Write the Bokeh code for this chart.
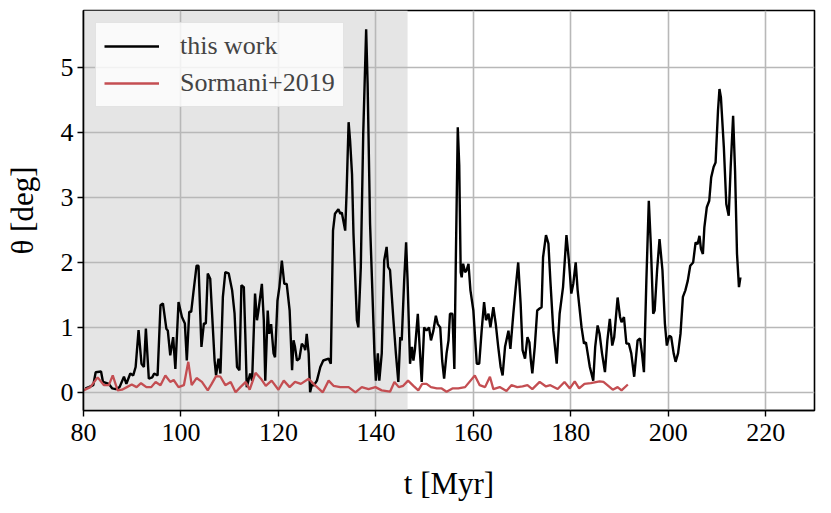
from bokeh.plotting import figure
from bokeh.models import Range1d, FixedTicker, BoxAnnotation
from bokeh.embed import file_html
from bokeh.resources import INLINE

# ---- data ----
t_work = [80.4, 81.1, 82.0, 82.5, 83.6, 84.0, 85.2, 85.9, 86.6, 87.4, 88.3, 88.8, 89.6, 90.2, 90.7,
          91.3, 91.9, 92.4, 92.8, 93.4, 94.1, 94.5, 95.2, 95.8, 96.3, 97.0, 97.3, 97.8, 98.4, 98.85,
          99.5, 100.2, 100.8, 101.2, 101.7, 102.1, 102.6, 103.2, 103.6, 104.2, 104.7, 105.1, 105.5,
          106.0, 106.9, 107.2, 107.7, 108.1, 108.6, 109.1, 109.8, 110.5, 111.0, 111.5, 112.0, 112.4,
          112.9, 113.2, 113.5, 114.2, 114.6, 115.2, 115.6, 115.9, 116.6, 117.0, 117.3, 117.8, 118.1,
          118.5, 119.0, 119.3, 119.8, 120.2, 120.7, 121.2, 121.7, 122.3, 122.8, 123.1, 123.4, 123.8,
          124.3, 124.8, 125.3, 125.5, 125.8, 126.2, 126.5, 126.9, 127.2, 127.9, 128.6, 129.2, 130.3,
          130.75, 131.2, 131.6, 132.3, 132.7, 133.0, 133.7, 134.0, 134.4, 134.7, 135.1, 135.4, 136.1,
          136.4, 136.9, 137.4, 138.0, 138.3, 138.8, 139.2, 139.7, 140.0, 140.4, 140.7, 141.2, 141.7,
          142.2, 142.5, 142.9, 143.6, 144.1, 144.6, 145.0, 145.3, 145.8, 146.2, 146.5, 147.0, 147.4,
          147.7, 148.0, 148.6, 148.9, 149.4, 149.9, 150.4, 150.9, 151.3, 151.8, 152.3, 152.7, 153.2,
          153.6, 154.0, 154.5, 154.9, 155.2, 155.7, 156.1, 156.4, 156.8, 157.1, 157.4, 157.6, 157.9,
          158.3, 158.6, 159.0, 159.4, 160.0, 160.7, 161.2, 161.7, 162.2, 162.6, 163.1, 163.5, 164.1,
          164.6, 165.1, 165.6, 166.0, 166.5, 167.2, 167.6, 168.2, 168.7, 169.2, 169.7, 170.1, 170.6,
          171.1, 171.5, 171.8, 172.1, 172.6, 173.1, 173.6, 174.0, 174.3, 174.9, 175.4, 175.8, 176.4,
          177.1, 177.7, 178.4, 179.1, 179.6, 180.1, 180.5, 181.0, 181.4, 182.2, 182.7, 183.1, 183.9,
          184.6, 185.0, 185.5, 185.9, 186.4, 187.0, 187.5, 188.0, 188.5, 188.9, 189.6, 190.1, 190.4,
          190.9, 191.4, 191.9, 192.4, 193.0, 193.7, 194.2, 194.6, 195.0, 195.5, 196.0, 196.4, 196.9,
          197.2, 197.7, 198.2, 198.8, 199.3, 199.7, 200.2, 200.6, 201.1, 201.5, 202.0, 202.5, 203.0,
          203.5, 204.0, 204.5, 205.1, 205.6, 206.0, 206.4, 206.7, 207.1, 207.4, 207.9, 208.4, 208.8,
          209.3, 209.7, 210.2, 210.5, 210.8, 211.4, 211.9, 212.4, 212.8, 213.3, 213.7, 214.1, 214.5,
          214.8]
theta_work = [0.06, 0.08, 0.11, 0.31, 0.32, 0.16, 0.13, 0.06, 0.05, 0.08, 0.24, 0.13, 0.29, 0.26, 0.39,
              0.96, 0.44, 0.39, 0.98, 0.21, 0.23, 0.29, 0.26, 1.34, 1.37, 0.98, 0.95, 0.57, 0.85, 0.36,
              1.39, 1.16, 1.06, 0.49, 1.24, 1.24, 1.57, 1.95, 1.95, 0.70, 1.06, 1.06, 1.83,
              1.75, 0.49, 0.26, 0.52, 0.29, 1.47, 1.85, 1.83, 1.57, 1.21, 0.39, 0.34, 1.65,
              1.62, 0.90, 0.08, 0.29, 0.18, 1.52, 1.11, 1.26, 1.67, 1.11, 0.18, 1.26, 0.90,
              1.05, 0.60, 0.54, 1.41, 1.62, 2.03, 1.67, 1.67, 1.26, 0.34, 0.80, 0.70, 0.49,
              0.52, 0.75, 0.70, 0.65, 0.90, 0.60, 0.00, 0.13, 0.10, 0.18, 0.39, 0.49, 0.52,
              0.44, 2.49, 2.75, 2.82, 2.75, 2.77, 2.49, 3.11, 4.16, 3.88, 3.36, 2.44, 1.11,
              1.00, 1.92, 3.98, 5.59, 4.75, 2.60, 1.72, 0.60, 0.18, 0.60, 0.18, 0.60, 2.03,
              2.24, 1.93, 1.88, 1.11, 0.60, 0.16, 0.85, 0.80, 1.72, 2.31, 1.72, 0.44, 0.70,
              0.49, 0.65, 1.21, 0.80, 0.16, 1.00, 0.95, 1.00, 0.80, 0.95, 1.18, 1.05, 1.00,
              0.49, 0.21, 0.60, 0.80, 1.21, 1.21, 0.36, 2.03, 4.08, 3.50, 1.85, 1.77, 1.98,
              1.85, 1.88, 1.98, 1.57, 1.26, 0.44, 0.44, 0.95, 1.39, 1.11, 1.21, 1.00, 1.31,
              1.05, 0.70, 0.39, 0.26, 0.70, 0.95, 0.67, 1.21, 1.62, 2.00, 1.36, 0.65, 0.52,
              0.85, 0.77, 0.49, 0.29, 0.70, 1.26, 1.29, 1.31, 2.08, 2.42, 2.29, 1.72, 0.95,
              0.44, 1.21, 1.62, 2.42, 2.03, 1.52, 1.67, 2.00, 1.57, 1.00, 0.75, 0.77, 0.39,
              0.18, 0.70, 1.03, 0.90, 0.60, 0.31, 0.80, 1.13, 0.72, 0.85, 1.46, 1.16, 1.08,
              1.16, 0.75, 0.75, 0.60, 0.24, 0.80, 0.83, 0.60, 0.31, 1.72, 2.95, 2.30, 1.21,
              1.26, 1.88, 2.36, 1.88, 1.06, 0.72, 0.87, 0.85, 0.60, 0.47, 0.60, 0.90, 1.47,
              1.57, 1.72, 1.95, 2.00, 2.31, 2.28, 2.41, 2.21, 2.13, 2.54, 2.85, 2.95, 3.31,
              3.47, 3.54, 4.34, 4.67, 4.54, 3.77, 2.90, 2.72, 3.47, 4.26, 3.41, 2.13, 1.62,
              1.77]

t_sormani = [80.0, 81.4, 82.9, 84.2, 85.2, 86.0, 87.0, 87.9, 88.9, 89.9, 90.9, 91.8, 92.9, 93.9,
             94.8, 95.8, 96.8, 97.8, 98.5, 99.5, 100.6, 101.5, 102.2, 103.2, 104.3, 105.5, 106.3,
             107.2, 108.1, 109.1, 110.2, 111.2, 112.2, 113.3, 114.1, 115.3, 116.4, 117.4, 118.6,
             120.0, 121.1, 122.3, 123.4, 124.6, 126.2, 127.2, 129.1, 130.3, 131.3, 132.7, 134.4,
             135.8, 137.1, 138.5, 139.9, 141.2, 142.9, 143.8, 144.7, 145.6, 146.6, 147.7, 148.7,
             149.5, 150.4, 151.3, 152.5, 153.5, 154.5, 155.7, 156.9, 158.3, 160.3, 161.3, 162.4,
             163.4, 164.1, 165.4, 166.8, 167.8, 169.0, 170.1, 171.1, 172.1, 173.6, 174.9, 175.8,
             177.3, 178.7, 179.8, 180.8, 181.7, 182.8, 184.1, 185.9, 186.7, 187.5, 188.6, 189.6,
             190.4, 191.7]
theta_sormani = [0.03, 0.08, 0.23, 0.11, 0.11, 0.26, 0.03, 0.04, 0.08, 0.12, 0.08, 0.14, 0.08, 0.08,
                 0.16, 0.11, 0.26, 0.16, 0.19, 0.08, 0.11, 0.47, 0.11, 0.22, 0.16, 0.03, 0.13,
                 0.25, 0.24, 0.11, 0.16, 0.00, 0.08, 0.16, 0.04, 0.30, 0.21, 0.10, 0.18,
                 0.04, 0.18, 0.08, 0.16, 0.13, 0.21, 0.13, 0.00, 0.18, 0.10, 0.08, 0.08,
                 0.00, 0.08, 0.05, 0.08, 0.03, 0.01, 0.16, 0.08, 0.10, 0.18, 0.10, 0.03,
                 0.13, 0.13, 0.08, 0.06, 0.06, 0.01, 0.06, 0.06, 0.08, 0.26, 0.11, 0.08,
                 0.24, 0.05, 0.08, 0.02, 0.11, 0.08, 0.09, 0.11, 0.05, 0.16, 0.09, 0.11,
                 0.05, 0.16, 0.06, 0.17, 0.06, 0.13, 0.14, 0.17, 0.16, 0.11, 0.04, 0.08,
                 0.03, 0.12]

shade_start = 80.0
shade_end = 146.5
x_ticks = [80, 100, 120, 140, 160, 180, 200, 220]
y_ticks = [0, 1, 2, 3, 4, 5]

FONT = "Liberation Serif"

p = figure(width=823, height=513, x_range=Range1d(80, 230), y_range=Range1d(-0.28, 5.88),
           output_backend="svg", toolbar_location=None,
           min_border_left=83, min_border_right=9, min_border_top=10, min_border_bottom=103)

p.add_layout(BoxAnnotation(left=shade_start, right=shade_end, fill_color="#e5e5e5", fill_alpha=1.0,
                           line_alpha=0, level="image"))

p.line(t_work, theta_work, line_color="black", line_width=2.4, legend_label="this work")
p.line(t_sormani, theta_sormani, line_color="#C44E52", line_width=2.3, legend_label="Sormani+2019")

p.xaxis.ticker = FixedTicker(ticks=x_ticks)
p.yaxis.ticker = FixedTicker(ticks=y_ticks)
p.xaxis.axis_label = "t [Myr]"
p.yaxis.axis_label = "θ [deg]"

for ax in (p.xaxis, p.yaxis):
    ax.axis_label_text_font = FONT
    ax.axis_label_text_font_size = "31px"
    ax.axis_label_text_font_style = "normal"
    ax.axis_label_text_color = "black"
    ax.major_label_text_font = FONT
    ax.major_label_text_font_size = "26px"
    ax.major_label_text_color = "black"
    ax.axis_line_color = "black"
    ax.axis_line_width = 1.6
    ax.major_tick_line_color = "black"
    ax.major_tick_line_width = 1.4
    ax.major_tick_out = 6
    ax.major_tick_in = 0
    ax.minor_tick_line_color = None
p.yaxis.major_label_standoff = 4
p.xaxis.major_label_standoff = 7
p.yaxis.axis_label_standoff = 18
p.xaxis.axis_label_standoff = 22

p.grid.grid_line_color = "#b8b8b8"
p.grid.grid_line_width = 1.6

p.outline_line_color = "black"
p.outline_line_width = 1.6
p.outline_line_alpha = 1.0
p.background_fill_color = "white"

lg = p.legend[0]
lg.location = "top_left"
lg.margin = 12
lg.padding = 8
lg.spacing = 7
lg.label_height = 30
lg.glyph_height = 30
lg.glyph_width = 55
lg.label_standoff = 21
lg.label_text_font = FONT
lg.label_text_font_size = "26px"
lg.border_line_color = "#cccccc"
lg.border_line_width = 1.5
lg.background_fill_color = "white"
lg.background_fill_alpha = 0.8

open("out.html", "w").write(file_html(p, INLINE))
